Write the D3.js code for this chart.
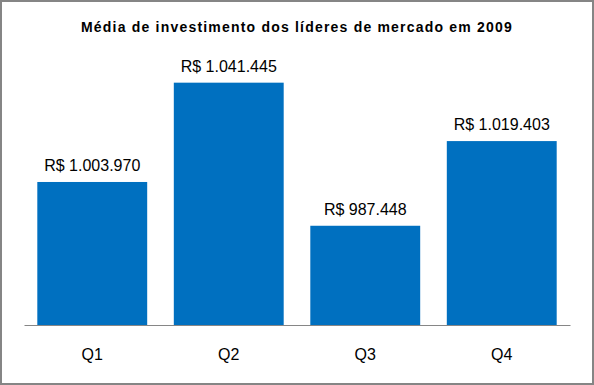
<!DOCTYPE html>
<html>
<head>
<meta charset="utf-8">
<script src="https://cdn.jsdelivr.net/npm/d3@7"></script>
<style>
  body { margin: 0; background: #fff; }
  svg { display: block; font-family: "Liberation Sans", Arial, sans-serif; }
</style>
</head>
<body>
<div id="chart"></div>
<script>
// data
var quarters = ["Q1", "Q2", "Q3", "Q4"];
var investments = [1003970, 1041445, 987448, 1019403];
var valueLabels = ["R$ 1.003.970", "R$ 1.041.445", "R$ 987.448", "R$ 1.019.403"];
var chartTitle = "Média de investimento dos líderes de mercado em 2009";

var width = 594, height = 385;
var margin = { top: 60, right: 24, bottom: 60, left: 24 };

var svg = d3.select("#chart").append("svg")
    .attr("width", width)
    .attr("height", height);

// outer frame
svg.append("rect")
    .attr("x", 1).attr("y", 1)
    .attr("width", width - 2).attr("height", height - 2)
    .attr("fill", "#fff")
    .attr("stroke", "#858585")
    .attr("stroke-width", 2);

svg.append("text")
    .attr("x", 297)
    .attr("y", 32)
    .attr("text-anchor", "middle")
    .style("font-size", "14px")
    .style("font-weight", "bold")
    .style("letter-spacing", "1.2px")
    .attr("fill", "#000")
    .text(chartTitle);

var x = d3.scaleBand()
    .domain(quarters)
    .range([margin.left, width - margin.right])
    .paddingInner(0.195)
    .paddingOuter(0.0975);

var y = d3.scaleLinear()
    .domain([950000, 1050000])
    .range([325, 60]);

var rows = quarters.map(function (q, i) {
    return { q: q, v: investments[i], label: valueLabels[i] };
});

svg.selectAll(".bar")
    .data(rows)
    .enter().append("rect")
    .attr("class", "bar")
    .attr("x", function (d) { return x(d.q); })
    .attr("y", function (d) { return y(d.v); })
    .attr("width", x.bandwidth())
    .attr("height", function (d) { return y(950000) - y(d.v); })
    .attr("fill", "#0070C0");

svg.selectAll(".val")
    .data(rows)
    .enter().append("text")
    .attr("class", "val")
    .attr("x", function (d) { return x(d.q) + x.bandwidth() / 2; })
    .attr("y", function (d) { return y(d.v) - 11; })
    .attr("text-anchor", "middle")
    .style("font-size", "16px")
    .attr("fill", "#000")
    .text(function (d) { return d.label; });

// category axis
var xAxis = svg.append("g")
    .attr("transform", "translate(0," + y(950000) + ")")
    .call(d3.axisBottom(x).tickSize(0).tickPadding(0));

xAxis.select(".domain").attr("stroke", "#868686");
xAxis.selectAll("text")
    .attr("y", 35)
    .attr("dy", 0)
    .style("font-size", "16px")
    .style("font-family", "\"Liberation Sans\", Arial, sans-serif")
    .attr("fill", "#000");
</script>
</body>
</html>
